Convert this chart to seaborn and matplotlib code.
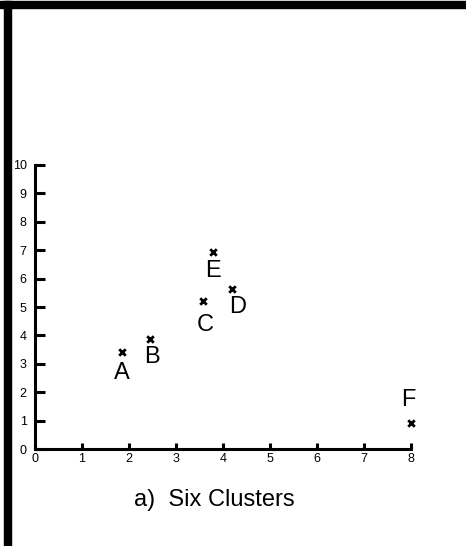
import matplotlib
matplotlib.use("Agg")
import matplotlib.pyplot as plt
from matplotlib.patches import Rectangle
import seaborn as sns
import pandas as pd

# Cluster centres and their names
cluster_names = ["A", "B", "C", "D", "E", "F"]
cluster_x = [1.85, 2.44, 3.58, 4.20, 3.78, 8.00]
cluster_y = [3.43, 3.87, 5.22, 5.63, 6.93, 0.93]

x_ticks = [0, 1, 2, 3, 4, 5, 6, 7, 8]
y_ticks = [0, 1, 2, 3, 4, 5, 6, 7, 8, 9, 10]
caption = "a)  Six Clusters"

# label offsets (pixels) relative to each centre
label_dx = [0, 2, 2, 5, 0, -3]
label_dy = [-21, -18, -24, -18, -19, 23]

sns.set_style("white")
plt.rcParams["font.family"] = ["Liberation Sans", "DejaVu Sans"]

W, H, DPI = 466, 546, 100
fig = plt.figure(figsize=(W / DPI, H / DPI), dpi=DPI)
fig.patch.set_facecolor("white")

# frame bars along the top and left edge
fig.patches.append(Rectangle((0, 1 - 8 / H), 1, 7 / H, transform=fig.transFigure,
                             color="black", zorder=0))
fig.patches.append(Rectangle((4 / W, 0), 7 / W, 1 - 1 / H, transform=fig.transFigure,
                             color="black", zorder=0))

ax = fig.add_axes([35 / W, (H - 449) / H, 376 / W, 284 / H])
df = pd.DataFrame({"x": cluster_x, "y": cluster_y, "name": cluster_names})
sns.scatterplot(data=df, x="x", y="y", marker="x", color="black", s=22,
                linewidth=2.0, ax=ax, clip_on=False, zorder=5)

for name, xv, yv, dx, dy in zip(cluster_names, cluster_x, cluster_y, label_dx, label_dy):
    ax.annotate(name, (xv, yv), xytext=(dx, dy), textcoords="offset pixels",
                ha="center", va="center", fontsize=17, color="black",
                annotation_clip=False)

ax.set_xlim(0, 8)
ax.set_ylim(0, 10)
ax.set_xticks(x_ticks)
ax.set_yticks(y_ticks)
ax.set_xlabel("")
ax.set_ylabel("")
for side in ("top", "right"):
    ax.spines[side].set_visible(False)
for side in ("left", "bottom"):
    ax.spines[side].set_linewidth(2.2)
    ax.spines[side].set_color("black")
ax.tick_params(axis="y", left=True, direction="in", length=7.5, width=2.2, pad=6,
               labelsize=9, colors="black")
ax.tick_params(axis="x", bottom=True, direction="in", length=4.5, width=2.2, pad=3,
               labelsize=9, colors="black")
ax.patch.set_alpha(0)

fig.text(214 / W, 1 - 500 / H, caption, ha="center", va="center", fontsize=17,
         color="black")

fig.savefig("out.png", dpi=DPI, facecolor="white")
